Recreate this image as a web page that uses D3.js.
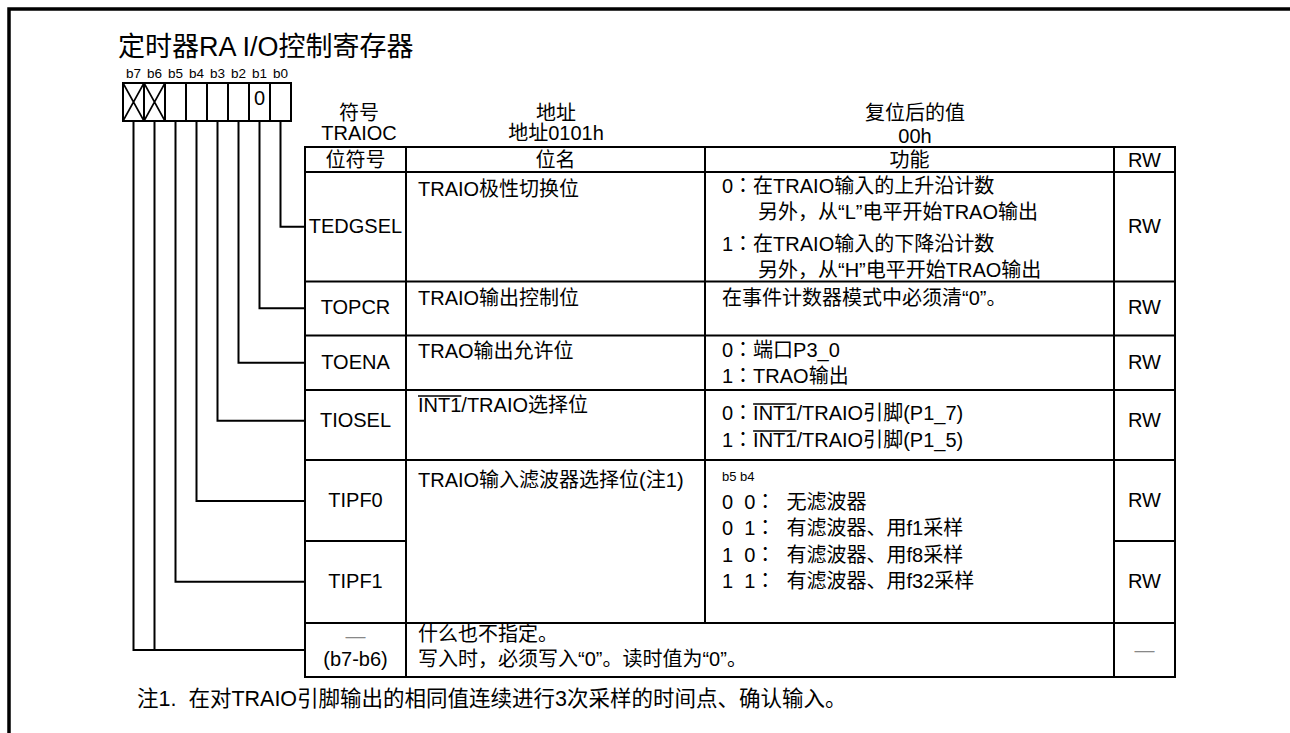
<!DOCTYPE html>
<html><head><meta charset="utf-8">
<script src="https://cdn.jsdelivr.net/npm/d3@7"></script>
<style>
html,body{margin:0;padding:0;background:#fff;}
svg{display:block;}
text{font-family:"Liberation Sans",Arial,"Noto Sans CJK SC",sans-serif;fill:#000;white-space:pre;}
text.jp{font-family:"Liberation Sans",Arial,"Noto Sans CJK JP",sans-serif;}
</style></head><body>
<svg id="c" width="1290" height="733"></svg>
<script>
// ---------- content ----------
const title = "定时器RA I/O控制寄存器";
const bitLabels = ["b7","b6","b5","b4","b3","b2","b1","b0"];
const bitCells = ["x","x","","","","","0",""];
const headerTop = [["符号","TRAIOC"],["地址","地址0101h"],["复位后的值","00h"]];
const columnHeads = ["位符号","位名","功能","RW"];
const symbols = ["TEDGSEL","TOPCR","TOENA","TIOSEL","TIPF0","TIPF1","—|(b7-b6)"];
const symbolBits = [["b0"],["b1"],["b2"],["b3"],["b4"],["b5"],["b7","b6"]];
const rwValues = ["RW","RW","RW","RW","RW","RW","—"];
const bitNames = ["TRAIO极性切换位","TRAIO输出控制位","TRAO输出允许位","INT1/TRAIO选择位","TRAIO输入滤波器选择位(注1)"];
const functionsTEDGSEL = ["0：在TRAIO输入的上升沿计数","另外，从“L”电平开始TRAO输出","1：在TRAIO输入的下降沿计数","另外，从“H”电平开始TRAO输出"];
const functionsTOPCR = ["在事件计数器模式中必须清“0”。"];
const functionsTOENA = ["0：端口P3_0","1：TRAO输出"];
const functionsTIOSEL = ["0：INT1/TRAIO引脚(P1_7)","1：INT1/TRAIO引脚(P1_5)"];
const functionsTIPFHead = "b5 b4";
const functionsTIPF = ["0  0：  无滤波器","0  1：  有滤波器、用f1采样","1  0：  有滤波器、用f8采样","1  1：  有滤波器、用f32采样"];
const reservedText = ["什么也不指定。","写入时，必须写入“0”。读时值为“0”。"];
const noteText = "注1.  在对TRAIO引脚输出的相同值连续进行3次采样的时间点、确认输入。";

// ---------- layout ----------
const svg = d3.select("#c");
const FS = 20;
const colX = [305, 406, 705, 1114, 1175];
const headTop = 147, headBottom = 172;
const rowEdges = [172, 281.5, 335.5, 390, 460, 541, 623, 677];
const symbolY = [226.7, 308.3, 362.7, 420.7, 501, 581.7, 650];

const xBit = d3.scaleBand().domain(bitLabels).range([123, 291]).padding(0);
const regTop = 83, regBottom = 121;

// outer frame
svg.append("path").attr("d","M1290,9 H9 V733").attr("fill","none").attr("stroke","#000").attr("stroke-width",3.5);

// title
svg.append("text").attr("x",118).attr("y",56).attr("font-size",27).text(title);

// bit labels
svg.selectAll("text.bl").data(bitLabels).join("text").attr("class","bl")
  .attr("x",d=>xBit(d)+xBit.bandwidth()/2).attr("y",78).attr("font-size",13.5)
  .attr("text-anchor","middle").text(d=>d);

// register cells
const cells = svg.append("g");
bitLabels.forEach((b,i)=>{
  const x0 = xBit(b), w = xBit.bandwidth();
  cells.append("rect").attr("x",x0).attr("y",regTop).attr("width",w).attr("height",regBottom-regTop)
    .attr("fill","none").attr("stroke","#000").attr("stroke-width",2);
  if (bitCells[i]==="x"){
    cells.append("path").attr("d",`M${x0},${regTop}L${x0+w},${regBottom}M${x0+w},${regTop}L${x0},${regBottom}`)
      .attr("stroke","#000").attr("stroke-width",1.6).attr("fill","none");
  } else if (bitCells[i]!==""){
    cells.append("text").attr("x",x0+w/2).attr("y",105).attr("text-anchor","middle").attr("font-size",FS).text(bitCells[i]);
  }
});

// leaders
symbolBits.forEach((bits,r)=>{
  bits.forEach(b=>{
    const x = xBit(b)+xBit.bandwidth()/2;
    svg.append("path").attr("d",`M${x},${regBottom} V${symbolY[r]} H${colX[0]}`)
      .attr("fill","none").attr("stroke","#000").attr("stroke-width",2);
  });
});

// header texts above table
const headCx = [359, 556, 915];
headerTop.forEach((pair,i)=>{
  svg.append("text").attr("x",headCx[i]).attr("y",120).attr("text-anchor","middle").attr("font-size",FS).text(pair[0]);
  svg.append("text").attr("x",headCx[i]).attr("y",i===2?143:140).attr("text-anchor","middle").attr("font-size",FS).text(pair[1]);
});

// table lines
const T = svg.append("g").attr("stroke","#000").attr("stroke-width",2).attr("fill","none");
T.append("rect").attr("x",colX[0]).attr("y",headTop).attr("width",colX[4]-colX[0]).attr("height",rowEdges[7]-headTop);
[headBottom,281.5,335.5,390,460,623].forEach(y=>T.append("line").attr("x1",colX[0]).attr("x2",colX[4]).attr("y1",y).attr("y2",y));
T.append("line").attr("x1",colX[0]).attr("x2",colX[1]).attr("y1",541).attr("y2",541);
T.append("line").attr("x1",colX[3]).attr("x2",colX[4]).attr("y1",541).attr("y2",541);
T.append("line").attr("x1",colX[1]).attr("x2",colX[1]).attr("y1",headTop).attr("y2",rowEdges[7]);
T.append("line").attr("x1",colX[2]).attr("x2",colX[2]).attr("y1",headTop).attr("y2",623);
T.append("line").attr("x1",colX[3]).attr("x2",colX[3]).attr("y1",headTop).attr("y2",rowEdges[7]);

// column heads
columnHeads.forEach((h,i)=>{
  svg.append("text").attr("x",(colX[i]+colX[i+1])/2).attr("y",167).attr("text-anchor","middle").attr("font-size",FS).text(h);
});

// symbols
const symCx = (colX[0]+colX[1])/2;
symbols.forEach((s,r)=>{
  if (s.includes("|")){
    const parts = s.split("|");
    svg.append("text").attr("x",symCx).attr("y",643).attr("text-anchor","middle").attr("font-size",FS).style("fill","#888").text(parts[0]);
    svg.append("text").attr("x",symCx).attr("y",666).attr("text-anchor","middle").attr("font-size",FS).text(parts[1]);
  } else {
    svg.append("text").attr("x",symCx).attr("y",symbolY[r]+6).attr("text-anchor","middle").attr("font-size",FS).text(s);
  }
});

// RW column
const rwCx = (colX[3]+colX[4])/2;
rwValues.forEach((v,r)=>{
  const t = svg.append("text").attr("x",rwCx).attr("y",v==="—"?657:symbolY[r]+6).attr("text-anchor","middle").attr("font-size",FS).text(v);
  if (v==="—") t.style("fill","#888");
});

// overline helper
function overline(sel, start, len){
  const n = sel.node();
  const a = n.getStartPositionOfChar(start).x;
  const b = n.getEndPositionOfChar(start+len-1).x;
  const y = +sel.attr("y") - 16;
  svg.append("line").attr("x1",a).attr("x2",b).attr("y1",y).attr("y2",y).attr("stroke","#000").attr("stroke-width",1.3);
}

// bit names
const nameX = colX[1]+12;
const nameY = [196, 305, 358, 412, 487];
bitNames.forEach((n,i)=>{
  const t = svg.append("text").attr("x",nameX).attr("y",nameY[i]).attr("font-size",FS).text(n);
  if (n.startsWith("INT1")) overline(t,0,4);
});

// functions (lines with a full-width colon use a font whose colon is centred)
const fX = 722, fIndent = 758;
function lines(arr, ys, indentIdx){
  arr.forEach((l,i)=>{
    const t = svg.append("text").attr("x", indentIdx.includes(i)?fIndent:fX).attr("y",ys[i])
      .attr("font-size",FS).attr("xml:space","preserve")
      .attr("class", l.includes("：") ? "jp" : null).text(l);
    const k = l.indexOf("INT1");
    if (k>=0) overline(t,k,4);
  });
}
lines(functionsTEDGSEL,[193,219,251,277],[1,3]);
lines(functionsTOPCR,[305],[]);
lines(functionsTOENA,[357,383],[]);
lines(functionsTIOSEL,[420,447],[]);
svg.append("text").attr("x",fX).attr("y",481).attr("font-size",13).text(functionsTIPFHead);
lines(functionsTIPF,[509,535,562,588],[]);
reservedText.forEach((l,i)=>svg.append("text").attr("x",nameX).attr("y",[641,666][i]).attr("font-size",FS).text(l));

// note
svg.append("text").attr("x",137).attr("y",706).attr("font-size",21.5).attr("xml:space","preserve").text(noteText);
</script>
</body></html>
